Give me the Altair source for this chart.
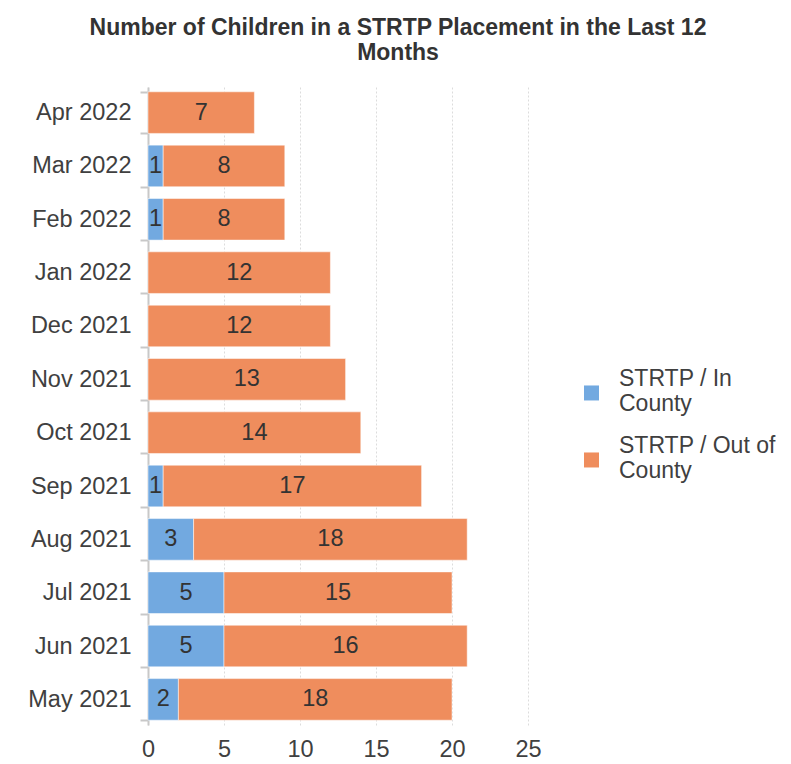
import altair as alt
import pandas as pd

months = ["Apr 2022", "Mar 2022", "Feb 2022", "Jan 2022", "Dec 2021", "Nov 2021",
          "Oct 2021", "Sep 2021", "Aug 2021", "Jul 2021", "Jun 2021", "May 2021"]
in_county = [0, 1, 1, 0, 0, 0, 0, 1, 3, 5, 5, 2]
out_county = [7, 8, 8, 12, 12, 13, 14, 17, 18, 15, 16, 18]
series = ["STRTP / In County", "STRTP / Out of County"]
colors = ["#72A9E0", "#EF8D5D"]
x_ticks = [0, 5, 10, 15, 20, 25]

rows = []
for m, a, b in zip(months, in_county, out_county):
    rows.append({"month": m, "series": series[0], "value": a, "ord": 0})
    rows.append({"month": m, "series": series[1], "value": b, "ord": 1})
df = pd.DataFrame(rows)
df = df[df["value"] > 0]

font = "Liberation Sans"
fs = 23.5
y = alt.Y("month:N", sort=months, title=None,
          scale=alt.Scale(paddingInner=0.22, paddingOuter=0.09),
          axis=alt.Axis(labelFontSize=fs, labelColor="#404040", labelFont=font, grid=False,
                        domainColor="#c8c8c8", tickColor="#c8c8c8", tickSize=8,
                        tickBand="extent", labelPadding=9, domainWidth=2, tickWidth=2))
x = alt.X("value:Q", stack="zero", title=None,
          scale=alt.Scale(domain=[0, 25], nice=False),
          axis=alt.Axis(values=x_ticks, labelFontSize=fs, labelColor="#404040",
                        labelFont=font, domain=False, ticks=False, grid=True,
                        labelFlush=False,
                        gridDash=[2, 2], gridColor="#dcdcdc", labelPadding=12))

bars = alt.Chart(df).mark_bar(stroke="#ffffff", strokeOpacity=0.5, strokeWidth=1).encode(
    y=y, x=x,
    color=alt.Color("series:N", scale=alt.Scale(domain=series, range=colors), title=None,
                    legend=alt.Legend(orient="none", legendX=432, legendY=280,
                                      symbolType="M-1,0.93H1V2.93H-1Z", symbolSize=225,
                                      symbolStrokeWidth=0, labelFontSize=23, labelFont=font,
                                      labelColor="#404040", rowPadding=18, labelOffset=16,
                                      labelLimit=300,
                                      labelExpr="datum.label == 'STRTP / In County' ? ['STRTP / In', 'County'] : ['STRTP / Out of', 'County']")),
    order=alt.Order("ord:Q"),
)

text = alt.Chart(df).transform_stack(
    stack="value", groupby=["month"], as_=["v0", "v1"], sort=[alt.SortField("ord")]
).transform_calculate(mid="(datum.v0 + datum.v1) / 2").mark_text(
    fontSize=fs, font=font, color="#333333"
).encode(
    y=alt.Y("month:N", sort=months),
    x=alt.X("mid:Q"),
    text="value:Q",
)

chart = (bars + text).properties(
    width=380, height=638,
    padding={"left": 19, "top": 9, "right": 0, "bottom": 0},
    view=alt.ViewBackground(stroke="transparent", strokeWidth=0),
    title=alt.TitleParams(
        text=["Number of Children in a STRTP Placement in the Last 12", "Months"],
        font=font, fontSize=23, fontWeight="bold", color="#333333",
        anchor="middle", frame="group", dx=60, lineHeight=25, offset=10),
).configure_view(stroke="transparent", strokeWidth=0).configure(background="white")

chart.save("out.html", embed_options={"renderer": "svg", "actions": False})
